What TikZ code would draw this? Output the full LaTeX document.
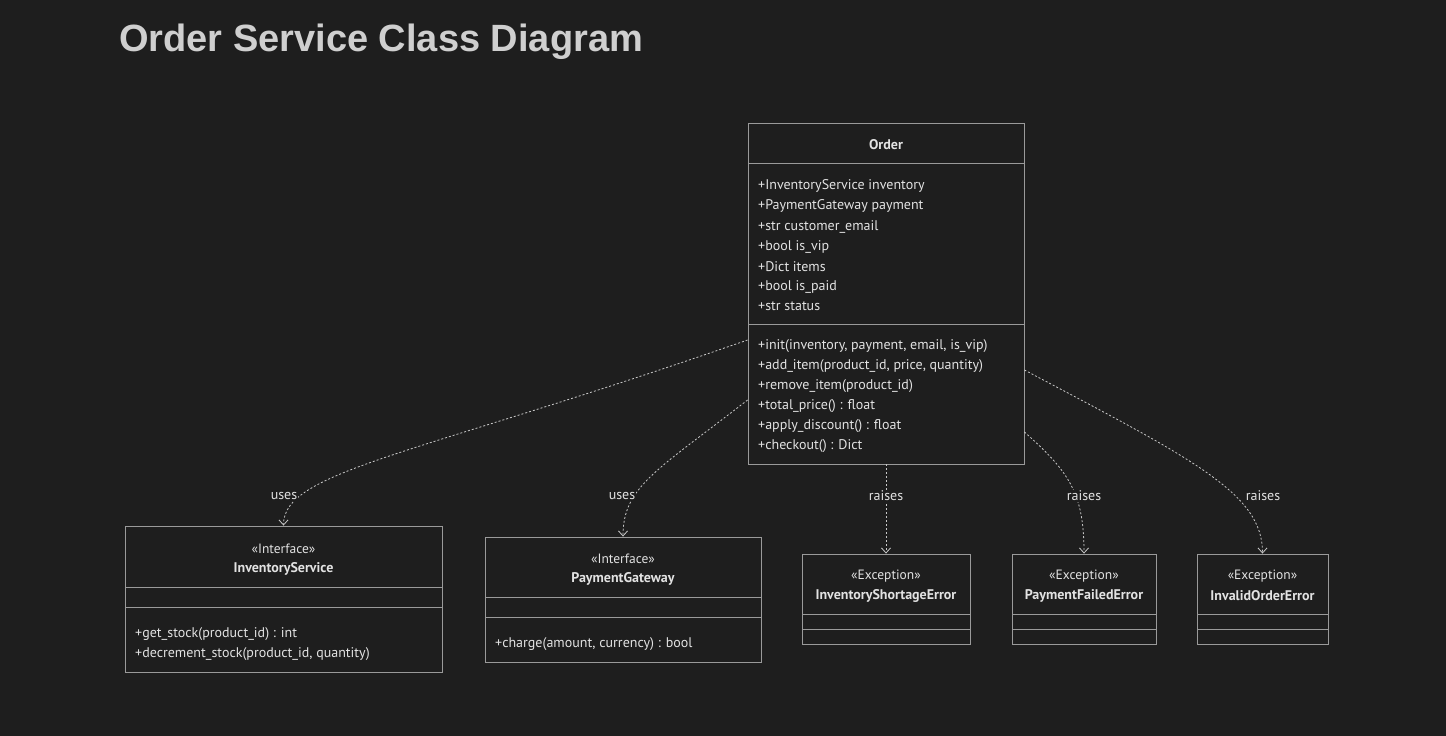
\documentclass[tikz,border=0pt]{standalone}
\usepackage{fontspec}
\setmainfont{PT Sans}
\newfontfamily\titlefont{Liberation Sans}
\usetikzlibrary{arrows.meta}
\definecolor{bg}{HTML}{1E1E1E}
\definecolor{boxline}{HTML}{9A9A9A}
\definecolor{txt}{HTML}{E2E2E2}
\definecolor{ttl}{HTML}{CFCFCF}
\definecolor{edge}{HTML}{C8C8C8}
\tikzset{
  cls/.style={draw=boxline, line width=0.9pt, fill=bg, inner sep=0pt},
  divider/.style={draw=boxline, line width=0.9pt},
  mem/.style={anchor=west, text=txt, font=\fontsize{14}{16}\selectfont, inner sep=0pt, yshift=-1.5pt},
  cname/.style={anchor=center, text=txt, font=\fontsize{14}{16}\selectfont\bfseries, inner sep=0pt, yshift=-1pt},
  stereo/.style={anchor=center, text=txt, font=\fontsize{13.5}{16}\selectfont, inner sep=0pt, yshift=-1pt},
  dep/.style={draw=edge, line width=0.8pt, dash pattern=on 2pt off 2pt, -{Straight Barb[length=5pt,width=9pt]}},
  lbl/.style={text=txt, font=\fontsize{14}{16}\selectfont, fill=bg, inner sep=1pt}
}
\begin{document}
\begin{tikzpicture}[x=1pt,y=-1pt]
\fill[bg] (0,0) rectangle (1446,736);
\useasboundingbox (0,0) rectangle (1446,736);

\node[anchor=west, text=ttl, font=\titlefont\fontsize{38}{42}\selectfont\bfseries, inner sep=0pt] (title) at (119,42) {Order Service Class Diagram};

% Order
\node[cls, minimum width=276pt, minimum height=341pt] (order) at (886,293.5) {};
\node[cname] (ordername) at (886,144) {Order};
\draw[divider] (748,163) -- (1024,163);
\draw[divider] (748,324) -- (1024,324);
\node[mem] (oa1) at (758,184) {+InventoryService inventory};
\node[mem] (oa2) at (758,204) {+PaymentGateway payment};
\node[mem] (oa3) at (758,225) {+str customer\_email};
\node[mem] (oa4) at (758,245) {+bool is\_vip};
\node[mem] (oa5) at (758,265) {+Dict items};
\node[mem] (oa6) at (758,285) {+bool is\_paid};
\node[mem] (oa7) at (758,305) {+str status};
\node[mem] (om1) at (758,345) {+init(inventory, payment, email, is\_vip)};
\node[mem] (om2) at (758,365) {+add\_item(product\_id, price, quantity)};
\node[mem] (om3) at (758,385) {+remove\_item(product\_id)};
\node[mem] (om4) at (758,405) {+total\_price() : float};
\node[mem] (om5) at (758,425) {+apply\_discount() : float};
\node[mem] (om6) at (758,445) {+checkout() : Dict};

% InventoryService
\node[cls, minimum width=317pt, minimum height=146pt] (inv) at (283.5,599) {};
\node[stereo] (invs) at (283.5,548) {«Interface»};
\node[cname] (invn) at (283.5,568) {InventoryService};
\draw[divider] (125,587) -- (442,587);
\draw[divider] (125,607) -- (442,607);
\node[mem] (im1) at (135,633) {+get\_stock(product\_id) : int};
\node[mem] (im2) at (135,653) {+decrement\_stock(product\_id, quantity)};

% PaymentGateway
\node[cls, minimum width=276pt, minimum height=125pt] (pay) at (623,599.5) {};
\node[stereo] (pays) at (623,558) {«Interface»};
\node[cname] (payn) at (623,578) {PaymentGateway};
\draw[divider] (485,597) -- (761,597);
\draw[divider] (485,617) -- (761,617);
\node[mem] (pm1) at (495,643) {+charge(amount, currency) : bool};

% Exceptions
\node[cls, minimum width=168pt, minimum height=90pt] (ise) at (886,599) {};
\node[stereo] (ises) at (886,575) {«Exception»};
\node[cname] (isen) at (886,595) {InventoryShortageError};
\draw[divider] (802,614) -- (970,614);
\draw[divider] (802,629) -- (970,629);

\node[cls, minimum width=144pt, minimum height=90pt] (pfe) at (1084,599) {};
\node[stereo] (pfes) at (1084,575) {«Exception»};
\node[cname] (pfen) at (1084,595) {PaymentFailedError};
\draw[divider] (1012,614) -- (1156,614);
\draw[divider] (1012,629) -- (1156,629);

\node[cls, minimum width=131pt, minimum height=90pt] (ioe) at (1262.5,599) {};
\node[stereo] (ioes) at (1262.5,575) {«Exception»};
\node[cname] (ioen) at (1262.5,595) {InvalidOrderError};
\draw[divider] (1197,614) -- (1328,614);
\draw[divider] (1197,629) -- (1328,629);

% connectors
\draw[dep] ([yshift=-46.5pt]order.west) .. controls +(-330,115) and +(0,-55) .. (inv.north);
\draw[dep] ([yshift=-106.5pt]order.west) .. controls +(-90,70) and +(0,-50) .. (pay.north);
\draw[dep] (order.south) -- (ise.north);
\draw[dep] ([yshift=-138.5pt]order.east) .. controls +(45,40) and +(0,-60) .. (pfe.north);
\draw[dep] ([yshift=-76.5pt]order.east) .. controls +(170,90) and +(0,-60) .. (ioe.north);

\node[lbl] (l1) at (284,496) {uses};
\node[lbl] (l2) at (622,496) {uses};
\node[lbl] (l3) at (886,496) {raises};
\node[lbl] (l4) at (1084,496) {raises};
\node[lbl] (l5) at (1263,496) {raises};
\end{tikzpicture}
\end{document}
